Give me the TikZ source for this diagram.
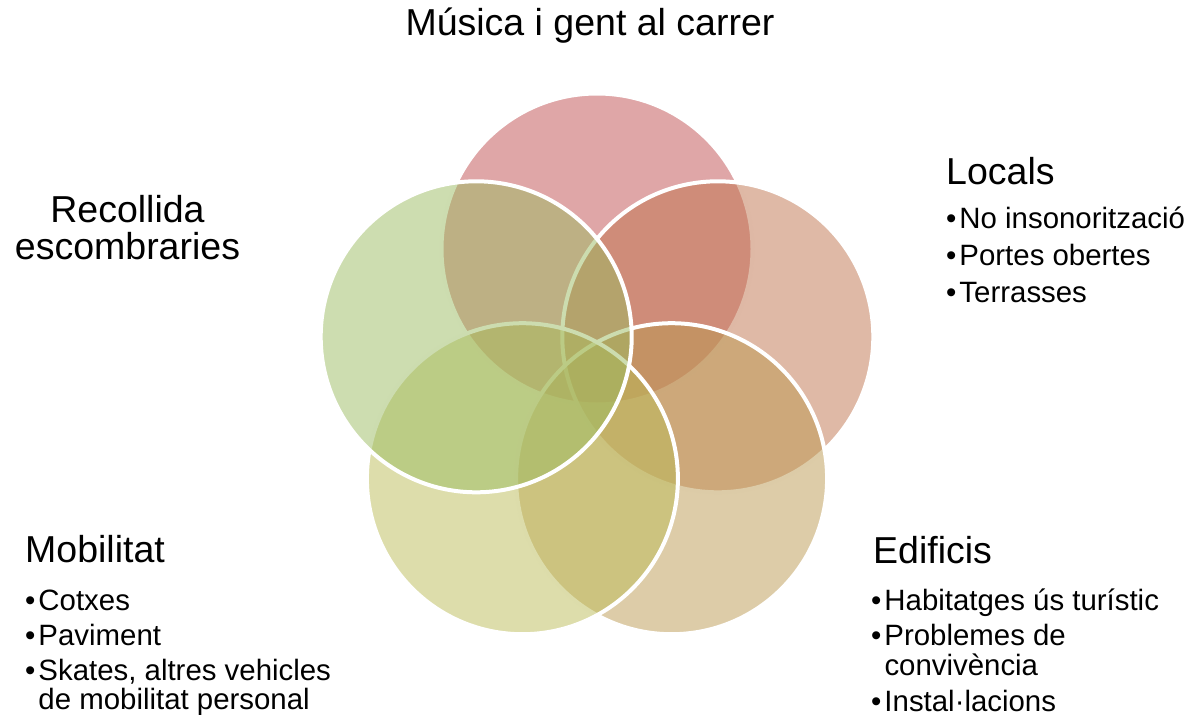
\documentclass[tikz,border=0pt]{standalone}
\usepackage{fontspec}
\setmainfont{Liberation Sans}
\definecolor{cTop}{RGB}{191,77,79}
\definecolor{cRight}{RGB}{191,115,77}
\definecolor{cBotR}{RGB}{187,153,81}
\definecolor{cBotL}{RGB}{187,187,87}
\definecolor{cLeft}{RGB}{155,187,97}
\newcommand{\bul}{•\kern3pt}
\newcommand{\nobul}{\phantom{•}\kern3pt}
\tikzset{
  venn/.style={circle, minimum size=311pt, inner sep=0pt, fill=#1, fill opacity=0.5, draw=white, draw opacity=1, line width=4pt},
  headtxt/.style={inner sep=0pt, anchor=base west, font=\fontsize{37.5}{40}\selectfont},
  bullettxt/.style={inner sep=0pt, anchor=base west, font=\fontsize{29.4}{34}\selectfont},
}
\begin{document}
\begin{tikzpicture}[x=1pt,y=-1pt]
\useasboundingbox (0,0) rectangle (1192,715);
% circles (drawing order matters)
\node[venn=cTop]   (ctop)   at (597,249) {};
\node[venn=cRight] (cright) at (717.8,336.8) {};
\node[venn=cBotR]  (cbotr)  at (671.6,478.7) {};
\node[venn=cBotL]  (cbotl)  at (522.4,478.7) {};
\node[venn=cLeft]  (cleft)  at (476.2,336.8) {};
% title
\node[headtxt, anchor=base] (title) at (590,35) {Música i gent al carrer};
% Recollida
\node[headtxt, anchor=base] (rec1) at (127.5,222) {Recollida};
\node[headtxt, anchor=base] (rec2) at (127.5,259) {escombraries};
% Locals
\node[headtxt]   (loc)  at (946,184) {Locals};
\node[bullettxt] (loc1) at (946,228) {\bul No insonorització};
\node[bullettxt] (loc2) at (946,265) {\bul Portes obertes};
\node[bullettxt] (loc3) at (946,302) {\bul Terrasses};
% Edificis
\node[headtxt]   (edi)  at (873,563) {Edificis};
\node[bullettxt] (edi1) at (871,610) {\bul Habitatges ús turístic};
\node[bullettxt] (edi2) at (871,645) {\bul Problemes de};
\node[bullettxt] (edi3) at (871,675) {\nobul convivència};
\node[bullettxt] (edi4) at (871,711) {\bul Instal·lacions};
% Mobilitat
\node[headtxt]   (mob)  at (25,562) {Mobilitat};
\node[bullettxt] (mob1) at (25,610) {\bul Cotxes};
\node[bullettxt] (mob2) at (25,645) {\bul Paviment};
\node[bullettxt] (mob3) at (25,680) {\bul Skates, altres vehicles};
\node[bullettxt] (mob4) at (25,709) {\nobul de mobilitat personal};
\end{tikzpicture}
\end{document}
